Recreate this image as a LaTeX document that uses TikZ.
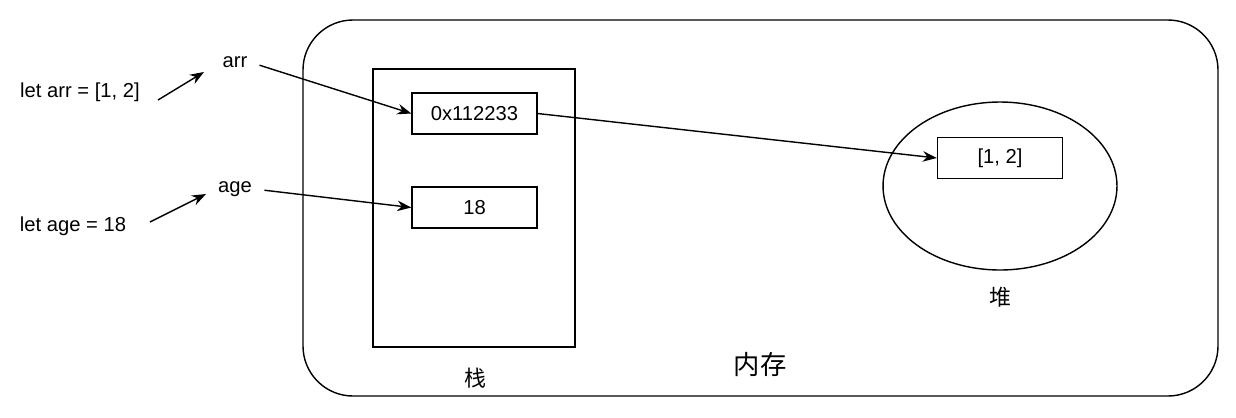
\documentclass[tikz,border=0pt]{standalone}
\usepackage{fontspec}
\setmainfont{Liberation Sans}
\newfontfamily\cjk{Noto Sans CJK SC}
\usetikzlibrary{arrows.meta,shapes.geometric}
\tikzset{
  cell/.style={draw, line width=0.8pt, minimum width=2.5cm, minimum height=0.82cm, inner sep=0pt},
  lbl/.style={inner sep=1pt, font=\fontsize{11.5}{13}\selectfont},
  ptr/.style={-{Stealth[length=8pt,width=6pt]}, line width=0.8pt}
}
\begin{document}
\begin{tikzpicture}[x=0.02cm, y=-0.02cm]
    \useasboundingbox (0,0) rectangle (1236,417);
    % Memory area
    \draw[line width=0.8pt, rounded corners=1cm] (303,20) rectangle (1218,396);
    \node[font=\cjk\fontsize{15}{17}\selectfont] (mem) at (760,364) {内存};

    % Stack
    \draw[line width=0.8pt] (373,69) rectangle (575,347);
    \node[font=\cjk\fontsize{12.5}{14}\selectfont] (stack) at (475,378) {栈};
    \node[cell, lbl] (addr) at (474.5,113.5) {0x112233};
    \node[cell, lbl] (num) at (474.5,207.5) {18};

    % Heap
    \node[draw, ellipse, line width=0.8pt, minimum width=4.68cm, minimum height=3.36cm] (heap) at (1000,186) {};
    \node[font=\cjk\fontsize{12.5}{14}\selectfont] (heaplbl) at (1000,297) {堆};
    \node[cell, lbl] (arrval) at (1000,158) {[1, 2]};

    % Declarations
    \node[lbl] (letarr) at (80,92) {let arr = [1, 2]};
    \node[lbl] (arr) at (235,62) {arr};
    \node[lbl] (letage) at (73,226) {let age = 18};
    \node[lbl] (age) at (235,189) {age};

    \coordinate (a1) at (158,100);
    \coordinate (a2) at (204,72);
    \coordinate (b1) at (150,222);
    \coordinate (b2) at (206,194);
    \draw[ptr] (a1) -- (a2);
    \draw[ptr] (b1) -- (b2);
    \draw[ptr, shorten <=6pt] (arr.east) -- (addr.west);
    \draw[ptr, shorten <=6pt] (age.east) -- (num.west);
    \draw[ptr] (addr.east) -- (arrval.west);
\end{tikzpicture}
\end{document}
